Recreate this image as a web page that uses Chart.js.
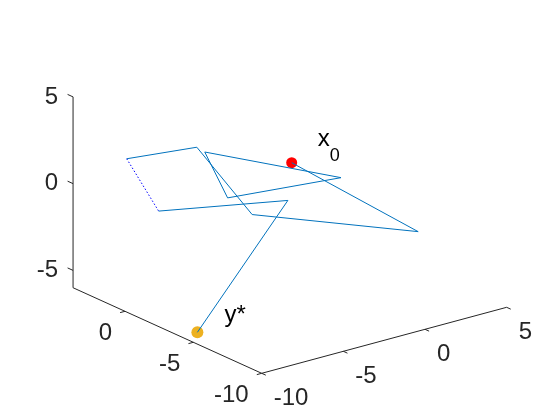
<!DOCTYPE html>
<html>
<head>
<meta charset="utf-8">
<script src="https://cdn.jsdelivr.net/npm/chart.js@4"></script>
<style>
  html, body { margin: 0; padding: 0; background: #fff; }
  #box { width: 560px; height: 420px; }
</style>
</head>
<body>
<div id="box"><canvas id="chart"></canvas></div>
<script>
// data (3d points)
const pathX = [-1.3, 3.6, -2.8, -5.1, -7.3];
const pathY = [-1.8, -5.2, -0.7, 0.6, 3.1];
const pathZ = [1, -3, -2, 2, 1];

const dotX = [-7.3, -6.1];
const dotY = [3.1, 2.2];
const dotZ = [1, -2];

const tailX = [-6.1, -1.7, -9.0];
const tailY = [2.2, -2.0, -4.1];
const tailZ = [-2, -1, -6];

const triX = [-5.2, 0.8, -3.8, -5.2];
const triY = [-0.1, -2.9, -0.1, -0.1];
const triZ = [2, 0, -1, 2];

const startPt = [-1.3, -1.8, 1];   // x0
const endPt = [-9.0, -4.1, -6];    // y*

const xLim = [-10, 5];
const yLim = [-10, 3.8];
const zLim = [-6, 5];
const xTicks = [-10, -5, 0, 5];
const yTicks = [-10, -5, 0];
const zTicks = [-5, 0, 5];

// projection of the 3d box onto the chart plane
const origin = { u: 261.7, v: 373.3 };
const dirX = { u: 16.33, v: -4.4 };
const dirY = { u: -13.67, v: -6.2 };
const dirZ = { u: 0, v: -17.35 };

function proj(x, y, z) {
    const a = x - xLim[0], b = y - yLim[0], c = z - zLim[0];
    return {
        x: origin.u + a * dirX.u + b * dirY.u + c * dirZ.u,
        y: origin.v + a * dirX.v + b * dirY.v + c * dirZ.v
    };
}

function toPoints(xs, ys, zs) {
    return xs.map((v, i) => proj(v, ys[i], zs[i]));
}

const font = '"Liberation Sans", Arial, Helvetica, sans-serif';
const axisColor = '#262626';

// axes, ticks and labels
const axes3d = {
    id: 'axes3d',
    beforeDatasetsDraw(chart) {
        const ctx = chart.ctx;
        const sx = chart.scales.x, sy = chart.scales.y;
        const px = p => [sx.getPixelForValue(p.x), sy.getPixelForValue(p.y)];
        const seg = (p, q) => {
            const a = px(p), b = px(q);
            ctx.beginPath();
            ctx.moveTo(a[0], a[1]);
            ctx.lineTo(b[0], b[1]);
            ctx.stroke();
        };
        ctx.save();
        ctx.strokeStyle = axisColor;
        ctx.lineWidth = 1;
        ctx.fillStyle = axisColor;
        ctx.font = '24px ' + font;

        // x axis
        seg(proj(xLim[0], yLim[0], zLim[0]), proj(xLim[1], yLim[0], zLim[0]));
        ctx.textAlign = 'left';
        ctx.textBaseline = 'middle';
        xTicks.forEach(t => {
            seg(proj(t, yLim[0], zLim[0]), proj(t, yLim[0] - 0.3, zLim[0]));
            const p = px(proj(t, yLim[0], zLim[0]));
            ctx.fillText(String(t), p[0] + 12, p[1] + 25);
        });

        // y axis
        seg(proj(xLim[0], yLim[0], zLim[0]), proj(xLim[0], yLim[1], zLim[0]));
        ctx.textAlign = 'right';
        yTicks.forEach(t => {
            seg(proj(xLim[0], t, zLim[0]), proj(xLim[0] - 0.3, t, zLim[0]));
            const p = px(proj(xLim[0], t, zLim[0]));
            ctx.fillText(String(t), p[0] - 13, p[1] + 22);
        });

        // z axis
        seg(proj(xLim[0], yLim[1], zLim[0]), proj(xLim[0], yLim[1], zLim[1]));
        zTicks.forEach(t => {
            seg(proj(xLim[0], yLim[1], t), proj(xLim[0], yLim[1] + 0.4, t));
            const p = px(proj(xLim[0], yLim[1], t));
            ctx.fillText(String(t), p[0] - 15, p[1]);
        });
        ctx.restore();
    },
    afterDatasetsDraw(chart) {
        const ctx = chart.ctx;
        const sx = chart.scales.x, sy = chart.scales.y;
        const s = proj(startPt[0], startPt[1], startPt[2]);
        const e = proj(endPt[0], endPt[1], endPt[2]);
        const sp = [sx.getPixelForValue(s.x), sy.getPixelForValue(s.y)];
        const ep = [sx.getPixelForValue(e.x), sy.getPixelForValue(e.y)];
        ctx.save();
        ctx.fillStyle = '#000';
        ctx.textAlign = 'left';
        ctx.textBaseline = 'alphabetic';
        ctx.font = '24px ' + font;
        ctx.fillText('x', sp[0] + 26, sp[1] - 17);
        ctx.font = '18px ' + font;
        ctx.fillText('0', sp[0] + 38, sp[1] - 2);
        ctx.font = '24px ' + font;
        ctx.fillText('y*', ep[0] + 27, ep[1] - 10);
        ctx.restore();
    }
};

const lineStyle = { showLine: true, pointRadius: 0, borderWidth: 1, fill: false, tension: 0 };

new Chart(document.getElementById('chart'), {
    type: 'scatter',
    data: {
        datasets: [
            Object.assign({ data: toPoints(pathX, pathY, pathZ), borderColor: '#0072bd' }, lineStyle),
            Object.assign({ data: toPoints(triX, triY, triZ), borderColor: '#0072bd' }, lineStyle),
            Object.assign({ data: toPoints(tailX, tailY, tailZ), borderColor: '#0072bd' }, lineStyle),
            Object.assign({ data: toPoints(dotX, dotY, dotZ), borderColor: '#0000ff', borderDash: [1.5, 2] }, lineStyle),
            {
                data: [proj(startPt[0], startPt[1], startPt[2])],
                pointRadius: 5.5, pointBackgroundColor: '#ff0000', pointBorderWidth: 0, showLine: false
            },
            {
                data: [proj(endPt[0], endPt[1], endPt[2])],
                pointRadius: 6, pointBackgroundColor: '#edb120', pointBorderWidth: 0, showLine: false
            }
        ]
    },
    options: {
        responsive: true,
        maintainAspectRatio: false,
        animation: false,
        layout: { padding: 0, autoPadding: false },
        plugins: { legend: { display: false }, tooltip: { enabled: false } },
        scales: {
            x: { type: 'linear', min: 0, max: 560, display: false },
            y: { type: 'linear', min: 0, max: 420, reverse: true, display: false }
        }
    },
    plugins: [axes3d]
});
</script>
</body>
</html>
